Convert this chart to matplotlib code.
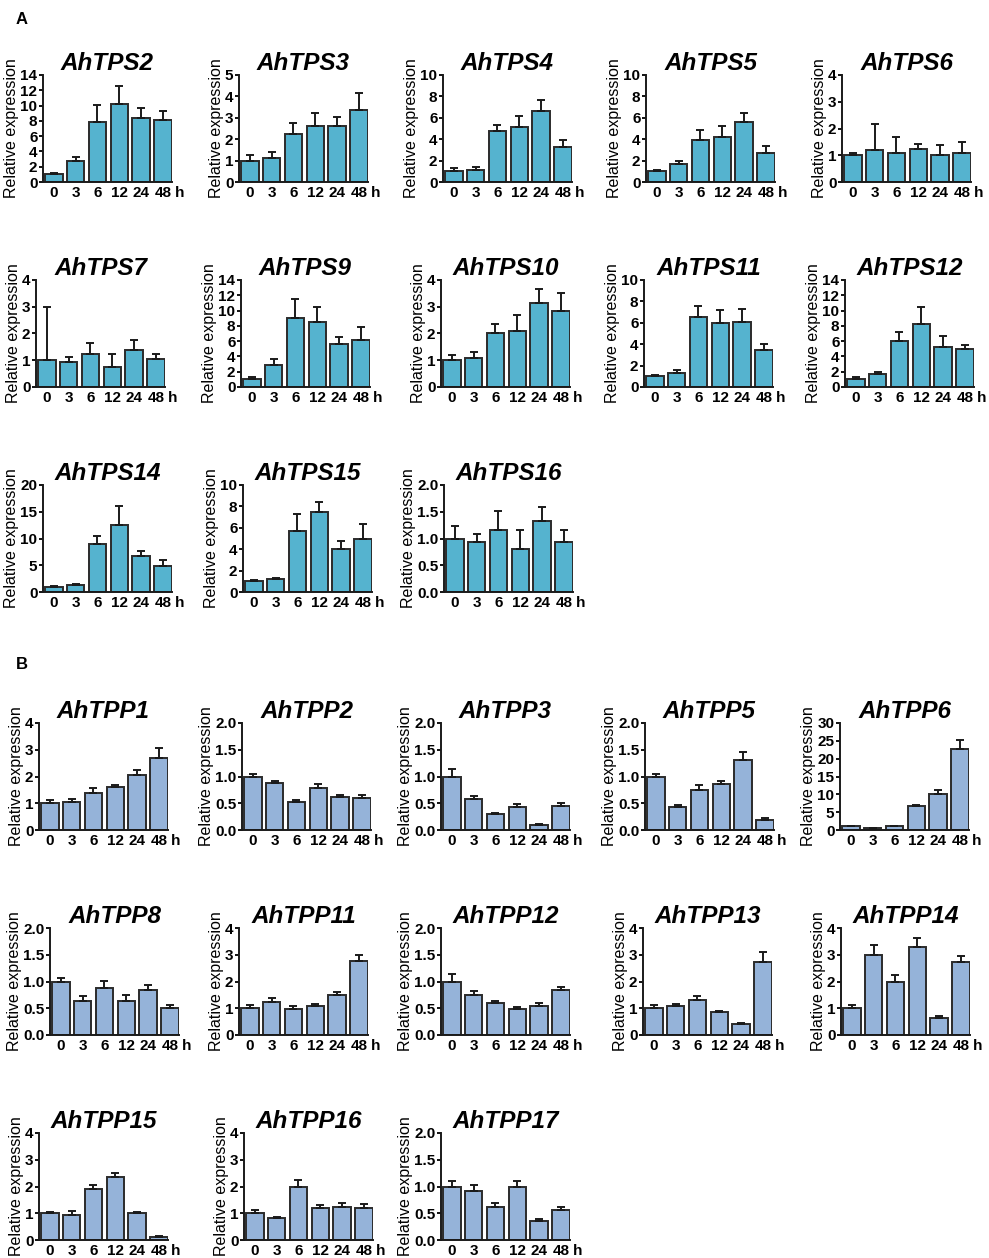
import numpy as np
import matplotlib
matplotlib.use("Agg")
import matplotlib.pyplot as plt

plt.rcParams['font.family'] = ['Liberation Sans', 'DejaVu Sans']
plt.rcParams['font.weight'] = 'bold'

hours = ['0', '3', '6', '12', '24', '48']

# panel A: TPS genes
tps_genes = ['AhTPS2', 'AhTPS3', 'AhTPS4', 'AhTPS5', 'AhTPS6',
             'AhTPS7', 'AhTPS9', 'AhTPS10', 'AhTPS11', 'AhTPS12',
             'AhTPS14', 'AhTPS15', 'AhTPS16']
tps_means = [
    [1.0, 2.7, 7.9, 10.2, 8.4, 8.1],
    [1.0, 1.12, 2.25, 2.6, 2.6, 3.35],
    [1.0, 1.15, 4.8, 5.15, 6.6, 3.25],
    [1.0, 1.65, 3.9, 4.2, 5.6, 2.7],
    [1.0, 1.2, 1.1, 1.22, 1.0, 1.1],
    [1.0, 0.92, 1.25, 0.75, 1.4, 1.05],
    [1.0, 2.85, 9.0, 8.5, 5.6, 6.2],
    [1.0, 1.1, 2.02, 2.1, 3.15, 2.85],
    [1.0, 1.3, 6.55, 6.0, 6.1, 3.45],
    [1.0, 1.75, 6.0, 8.2, 5.25, 5.0],
    [1.0, 1.25, 9.0, 12.5, 6.8, 4.9],
    [1.0, 1.2, 5.7, 7.5, 4.0, 5.0],
    [1.0, 0.93, 1.16, 0.8, 1.33, 0.94],
]
tps_errs = [
    [0.2, 0.6, 2.2, 2.4, 1.3, 1.2],
    [0.25, 0.28, 0.5, 0.62, 0.42, 0.8],
    [0.3, 0.25, 0.55, 1.0, 1.05, 0.65],
    [0.15, 0.3, 0.95, 1.0, 0.85, 0.65],
    [0.1, 0.95, 0.6, 0.2, 0.4, 0.4],
    [2.0, 0.22, 0.4, 0.48, 0.35, 0.18],
    [0.25, 0.8, 2.5, 2.0, 0.9, 1.7],
    [0.2, 0.22, 0.33, 0.6, 0.5, 0.65],
    [0.15, 0.3, 1.05, 1.2, 1.2, 0.55],
    [0.25, 0.25, 1.15, 2.3, 1.45, 0.55],
    [0.1, 0.25, 1.5, 3.5, 0.8, 1.0],
    [0.15, 0.1, 1.6, 0.9, 0.8, 1.4],
    [0.24, 0.15, 0.35, 0.36, 0.26, 0.22],
]
tps_ymax = [14, 5, 10, 10, 4, 4, 14, 4, 10, 14, 20, 10, 2.0]
tps_step = [2, 1, 2, 2, 1, 1, 2, 1, 2, 2, 5, 2, 0.5]

# panel B: TPP genes
tpp_genes = ['AhTPP1', 'AhTPP2', 'AhTPP3', 'AhTPP5', 'AhTPP6',
             'AhTPP8', 'AhTPP11', 'AhTPP12', 'AhTPP13', 'AhTPP14',
             'AhTPP15', 'AhTPP16', 'AhTPP17']
tpp_means = [
    [1.0, 1.03, 1.38, 1.6, 2.07, 2.7],
    [1.0, 0.87, 0.52, 0.78, 0.61, 0.6],
    [1.0, 0.58, 0.29, 0.43, 0.1, 0.44],
    [1.0, 0.43, 0.74, 0.86, 1.31, 0.19],
    [1.0, 0.5, 1.0, 6.6, 10.2, 22.8],
    [1.0, 0.64, 0.88, 0.64, 0.84, 0.51],
    [1.0, 1.25, 0.97, 1.1, 1.5, 2.77],
    [1.0, 0.75, 0.6, 0.48, 0.55, 0.85],
    [1.0, 1.08, 1.3, 0.87, 0.41, 2.72],
    [1.0, 3.0, 2.0, 3.3, 0.65, 2.74],
    [1.0, 0.95, 1.9, 2.37, 1.0, 0.13],
    [1.0, 0.82, 2.0, 1.2, 1.24, 1.2],
    [1.0, 0.92, 0.61, 1.0, 0.36, 0.56],
]
tpp_errs = [
    [0.13, 0.14, 0.18, 0.08, 0.17, 0.37],
    [0.05, 0.05, 0.04, 0.08, 0.05, 0.05],
    [0.14, 0.06, 0.03, 0.06, 0.01, 0.06],
    [0.05, 0.03, 0.1, 0.06, 0.15, 0.03],
    [0.1, 0.1, 0.1, 0.5, 1.0, 2.3],
    [0.06, 0.08, 0.13, 0.1, 0.1, 0.06],
    [0.14, 0.12, 0.1, 0.07, 0.12, 0.22],
    [0.14, 0.07, 0.03, 0.05, 0.05, 0.05],
    [0.12, 0.08, 0.15, 0.04, 0.03, 0.38],
    [0.13, 0.35, 0.23, 0.32, 0.07, 0.22],
    [0.06, 0.12, 0.14, 0.13, 0.05, 0.02],
    [0.12, 0.05, 0.23, 0.12, 0.16, 0.15],
    [0.1, 0.1, 0.08, 0.11, 0.04, 0.06],
]
tpp_ymax = [4, 2.0, 2.0, 2.0, 30, 2.0, 4, 2.0, 4, 4, 4, 4, 2.0]
tpp_step = [1, 0.5, 0.5, 0.5, 5, 0.5, 1, 0.5, 1, 1, 1, 1, 0.5]

W, H = 989, 1258
AX_W, AX_H = 129, 107
# y-axis x pixel of every panel, and pixel y of the top of each row
tps_left = [43, 239, 443, 646, 842, 36, 241, 441, 644, 845, 43, 243, 444]
tps_top = [75] * 5 + [280] * 5 + [485] * 3
tpp_left = [39, 242, 441, 645, 840, 50, 239, 441, 643, 841, 39, 244, 441]
tpp_top = [723] * 5 + [928] * 5 + [1133] * 3

fig = plt.figure(figsize=(W / 100, H / 100), dpi=100)


def panel(left, top, name, mean, err, ymax, step, color):
    ax = fig.add_axes([left / W, 1 - (top + AX_H) / H, AX_W / W, AX_H / H])
    x = np.arange(len(hours))
    ax.bar(x, mean, width=0.8, color=color, edgecolor='#2b2b2b',
           linewidth=1.4, zorder=2)
    ax.errorbar(x, mean, yerr=[np.zeros(len(err)), err], fmt='none',
                ecolor='#1a1a1a', elinewidth=1.4, capsize=3, capthick=1.4,
                zorder=3)
    ax.set_xlim(-0.5, 5.42)
    ax.set_ylim(0, ymax)
    ticks = np.arange(0, ymax + step / 2, step)
    ax.set_yticks(ticks)
    if step < 1:
        ax.set_yticklabels(['%.1f' % t for t in ticks])
    else:
        ax.set_yticklabels(['%d' % t for t in ticks])
    ax.set_xticks(x)
    ax.set_xticklabels(hours)
    ax.tick_params(axis='x', length=0, pad=3, labelsize=11)
    ax.tick_params(axis='y', length=3, width=1.3, pad=1, labelsize=11,
                   direction='out')
    for s in ['top', 'right']:
        ax.spines[s].set_visible(False)
    for s in ['left', 'bottom']:
        ax.spines[s].set_linewidth(1.4)
        ax.spines[s].set_color('#1a1a1a')
    ax.set_ylabel('Relative expression', fontsize=11.5, labelpad=1)
    ax.set_title(name, fontsize=17.5, style='italic', weight='bold', pad=3)
    ax.annotate('h', xy=(5.75, 0), xycoords=('data', 'axes fraction'),
                xytext=(0, -3), textcoords='offset points',
                ha='center', va='top', fontsize=11, annotation_clip=False)
    return ax


for i in range(len(tps_genes)):
    panel(tps_left[i], tps_top[i], tps_genes[i], tps_means[i], tps_errs[i],
          tps_ymax[i], tps_step[i], '#55b3cf')

for i in range(len(tpp_genes)):
    panel(tpp_left[i], tpp_top[i], tpp_genes[i], tpp_means[i], tpp_errs[i],
          tpp_ymax[i], tpp_step[i], '#95b3d9')

fig.text(16 / W, 1 - 20 / H, 'A', fontsize=12, weight='bold', va='center')
fig.text(16 / W, 1 - 665 / H, 'B', fontsize=12, weight='bold', va='center')

fig.savefig('out.png', dpi=100)
